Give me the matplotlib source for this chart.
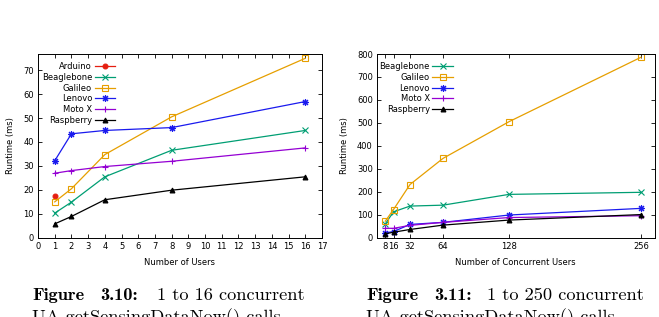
import matplotlib
matplotlib.use("Agg")
import matplotlib.pyplot as plt

# left chart: 1 to 16 users
users = [1, 2, 4, 8, 16]
arduino = [17.2]
beaglebone = [10.2, 14.8, 25.4, 36.5, 44.8]
galileo = [14.9, 20.4, 34.7, 50.5, 75.0]
lenovo = [32.1, 43.4, 44.8, 46.0, 56.9]
motox = [26.9, 28.0, 29.7, 31.9, 37.5]
raspberry = [5.7, 8.8, 15.8, 19.8, 25.4]

# right chart: concurrent users
conc = [8, 16, 32, 64, 128, 256]
beaglebone2 = [59, 112, 137, 141, 188, 197]
galileo2 = [71, 122, 231, 345, 505, 786]
lenovo2 = [20, 26, 57, 66, 98, 127]
motox2 = [40, 40, 53, 66, 87, 95]
raspberry2 = [16, 23, 35, 54, 76, 100]

W, H = 659, 317
fig = plt.figure(figsize=(W / 100, H / 100), dpi=100)

FS = 6
styles = {
    "Arduino": dict(color="#e51e10", marker="o", ms=3.5),
    "Beaglebone": dict(color="#009e73", marker="x", ms=4),
    "Galileo": dict(color="#e69f00", marker="s", ms=4, mfc="none"),
    "Lenovo": dict(color="#1a1aee", marker=(8, 2, 0), ms=5),
    "Moto X": dict(color="#9400d3", marker="+", ms=4.5),
    "Raspberry": dict(color="black", marker="^", ms=3.5),
}


def make_axes(x0, x1, y0, y1):
    ax = fig.add_axes([x0 / W, (H - y1) / H, (x1 - x0) / W, (y1 - y0) / H])
    ax.tick_params(direction="in", top=True, right=True, length=3, width=0.6,
                   labelsize=FS, pad=3)
    for s in ax.spines.values():
        s.set_linewidth(0.7)
    return ax


def draw(ax, x, y, name):
    st = styles[name]
    ax.plot(x[:len(y)], y, label=name, lw=0.9, color=st["color"], marker=st["marker"],
            ms=st["ms"], mfc=st.get("mfc", st["color"]), mew=0.8)


ax1 = make_axes(38, 322, 54, 237.5)
draw(ax1, users, arduino, "Arduino")
draw(ax1, users, beaglebone, "Beaglebone")
draw(ax1, users, galileo, "Galileo")
draw(ax1, users, lenovo, "Lenovo")
draw(ax1, users, motox, "Moto X")
draw(ax1, users, raspberry, "Raspberry")
ax1.set_xlim(0, 17)
ax1.set_ylim(0, 76.8)
ax1.set_xticks(range(0, 18))
ax1.set_yticks(range(0, 80, 10))
ax1.set_xlabel("Number of Users", fontsize=FS, labelpad=5)
ax1.set_ylabel("Runtime (ms)", fontsize=FS, labelpad=6)
ax1.legend(loc="upper right", bbox_to_anchor=(0.287, 0.978), frameon=False,
           markerfirst=False, fontsize=FS, borderpad=0, labelspacing=0.2,
           handlelength=2.5, handletextpad=0.3)

ax2 = make_axes(377, 654.5, 54, 237.5)
draw(ax2, conc, beaglebone2, "Beaglebone")
draw(ax2, conc, galileo2, "Galileo")
draw(ax2, conc, lenovo2, "Lenovo")
draw(ax2, conc, motox2, "Moto X")
draw(ax2, conc, raspberry2, "Raspberry")
ax2.set_xlim(0, 269)
ax2.set_ylim(0, 800)
ax2.set_xticks(conc)
ax2.set_yticks(range(0, 900, 100))
ax2.set_xlabel("Number of Concurrent Users", fontsize=FS, labelpad=5)
ax2.set_ylabel("Runtime (ms)", fontsize=FS, labelpad=6)
ax2.legend(loc="upper right", bbox_to_anchor=(0.29, 0.978), frameon=False,
           markerfirst=False, fontsize=FS, borderpad=0, labelspacing=0.2,
           handlelength=2.5, handletextpad=0.3)

# captions
CS = 13.2
captions = [(32, 100, 157, "3.10:", "1 to 16 concurrent"),
            (366, 434, 487, "3.11:", "1 to 250 concurrent")]
for xf, xn, xt, num, rest in captions:
    fig.text(xf / W, (H - 300) / H, "Figure", fontfamily="cmb10", fontsize=CS,
             va="baseline", ha="left")
    fig.text(xn / W, (H - 300) / H, num, fontfamily="cmb10", fontsize=CS,
             va="baseline", ha="left")
    fig.text(xt / W, (H - 300) / H, rest, fontfamily="cmr10", fontsize=CS,
             va="baseline", ha="left")
    fig.text(xf / W, (H - 322) / H, "UA getSensingDataNow() calls", fontfamily="cmr10",
             fontsize=CS, va="baseline", ha="left")

fig.savefig("out.png", dpi=100)
